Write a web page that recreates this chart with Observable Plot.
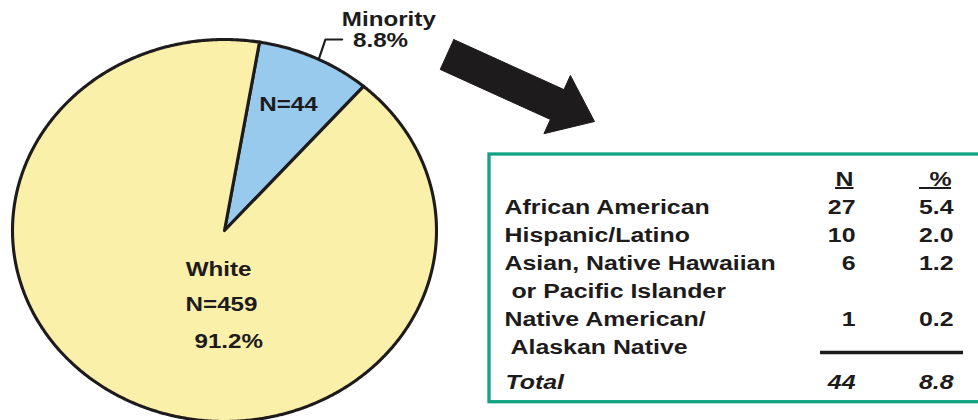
<!DOCTYPE html>
<html><head><meta charset="utf-8">
<script src="https://cdn.jsdelivr.net/npm/d3@7"></script>
<script src="https://cdn.jsdelivr.net/npm/@observablehq/plot@0.6"></script>
<style>
html,body{margin:0;padding:0;background:#fff;overflow:hidden}
#wrap{position:relative;width:978px;height:420px;overflow:hidden}
#wrap svg{position:absolute;left:0;top:0}
</style></head><body><div id="wrap"></div>
<script>
// ---------- data ----------
const sliceNames = ["Minority", "White"];
const sliceN = [44, 459];
const slicePct = [8.8, 91.2];

const groups = ["African American", "Hispanic/Latino", "Asian, Native Hawaiian\n or Pacific Islander", "Native American/\n Alaskan Native"];
const groupN = [27, 10, 6, 1];
const groupPct = [5.4, 2.0, 1.2, 0.2];
const totalLabel = "Total";
const headers = ["N", "%"];

// ---------- layout / style ----------
const W = 978, H = 420;
const ink = "#1e1b1c";
const sliceColors = ["#98caed", "#faf0aa"];
const green = "#12a384";
const font = "'Liberation Sans', Arial, Helvetica, sans-serif";
const pie = {cx: 224, cy: 230, rx: 212, ry: 191, start: 9.5 * Math.PI / 180};

// pie wedges in unit coordinates (angle measured clockwise from top)
const arcs = d3.pie().sort(null).startAngle(pie.start).endAngle(pie.start + 2 * Math.PI)(sliceN);
const wedges = arcs.map(a => {
  const pts = [{u: 0, v: 0}];
  const n = Math.ceil((a.endAngle - a.startAngle) / (Math.PI / 360));
  for (let k = 0; k <= n; k++) {
    const t = a.startAngle + (a.endAngle - a.startAngle) * k / n;
    pts.push({u: Math.sin(t), v: Math.cos(t)});
  }
  pts.push({u: 0, v: 0});
  return pts;
});

// label anchors (unit coordinates of the pie)
const minMid = (arcs[0].startAngle + arcs[0].endAngle) / 2;
const pieLabels = [
  {u: 0.775, v: 1.073, t: sliceNames[0]},
  {u: 0.736, v: 0.963, t: slicePct[0].toFixed(1) + "%"},
  {u: 0.302, v: 0.624, t: "N=" + sliceN[0]},
  {u: -0.028, v: -0.236, t: sliceNames[1]},
  {u: -0.014, v: -0.424, t: "N=" + sliceN[1]},
  {u: 0.020, v: -0.613, t: slicePct[1].toFixed(1) + "%"}
];
const leader = [
  {u: Math.sin(minMid + 0.02), v: Math.cos(minMid + 0.02)},
  {u: 0.476, v: 1.0},
  {u: 0.555, v: 1.0}
];

const plotA = Plot.plot({
  width: W, height: H, margin: 0,
  x: {domain: [-1, 1], range: [pie.cx - pie.rx, pie.cx + pie.rx], axis: null},
  y: {domain: [-1, 1], range: [pie.cy + pie.ry, pie.cy - pie.ry], axis: null},
  marks: [
    ...wedges.map((pts, i) => Plot.line(pts, {x: "u", y: "v", fill: sliceColors[i], stroke: ink, strokeWidth: 3.1, strokeLinejoin: "round"})),
    Plot.line(leader, {x: "u", y: "v", stroke: ink, strokeWidth: 2.2}),
    Plot.text(pieLabels, {x: "u", y: "v", text: "t", textAnchor: "middle", lineAnchor: "bottom", fontSize: 20, fontWeight: "bold", fontFamily: font, fill: ink})
  ]
});

// ---------- table ----------
const tbl = {top: 185, lh: 28, labelX: 504, nX: 855, pX: 953, nHeadX: 844, pHeadX: 940};
const labelLines = [], nums = [];
let line = 1;
groups.forEach((g, i) => {
  const parts = g.split("\n");
  nums.push({line, n: String(groupN[i]), p: groupPct[i].toFixed(1)});
  parts.forEach(p => { labelLines.push({line, t: p}); line++; });
});
const totalLine = line + 0.25;
const totalRow = [{line: totalLine, t: totalLabel, n: String(d3.sum(groupN)), p: d3.sum(groupPct).toFixed(1)}];
const yOf = d => tbl.top + d.line * tbl.lh;
const headRows = [{x: tbl.nHeadX, t: headers[0], x1: 835, x2: 853.5}, {x: tbl.pHeadX, t: headers[1], x1: 919, x2: 951}];

// block arrow geometry
const arrow = (() => {
  const tail = [446.5, 54], tip = [594, 121], sh = 16.4, hh = 32, hl = 41;
  const dx = tip[0] - tail[0], dy = tip[1] - tail[1], L = Math.hypot(dx, dy);
  const u = [dx / L, dy / L], n = [-u[1], u[0]];
  const B = [tip[0] - u[0] * hl, tip[1] - u[1] * hl];
  const P = (p, s) => ({x: p[0] + n[0] * s, y: p[1] + n[1] * s});
  const pts = [P(tail, -sh), P(B, -sh), P(B, -hh), {x: tip[0], y: tip[1]}, P(B, hh), P(B, sh), P(tail, sh)];
  pts.push(pts[0]);
  return pts;
})();

const txt = {fontSize: 20, fontWeight: "bold", fontFamily: font, fill: ink, lineAnchor: "bottom"};
const plotB = Plot.plot({
  width: W, height: H, margin: 0,
  style: {background: "transparent"},
  x: {domain: [0, W], range: [0, W], axis: null},
  y: {domain: [0, H], range: [0, H], axis: null},
  marks: [
    Plot.line(arrow, {x: "x", y: "y", fill: ink, stroke: ink, strokeWidth: 1}),
    Plot.rect([0], {x1: 489, x2: 1010, y1: 154, y2: 401.7, fill: "none", stroke: green, strokeWidth: 3.3}),
    Plot.text(headRows, {x: "x", y: tbl.top, text: "t", textAnchor: "middle", ...txt}),
    Plot.ruleY(headRows, {y: tbl.top + 2.5, x1: "x1", x2: "x2", stroke: ink, strokeWidth: 2}),
    Plot.text(labelLines, {x: tbl.labelX, y: yOf, text: "t", textAnchor: "start", ...txt}),
    Plot.text(nums, {x: tbl.nX, y: yOf, text: "n", textAnchor: "end", ...txt}),
    Plot.text(nums, {x: tbl.pX, y: yOf, text: "p", textAnchor: "end", ...txt}),
    Plot.ruleY([0], {y: tbl.top + 6 * tbl.lh - 1, x1: 820, x2: 963, stroke: ink, strokeWidth: 3.5}),
    Plot.text(totalRow, {x: tbl.labelX + 1, y: yOf, text: "t", textAnchor: "start", fontStyle: "italic", ...txt}),
    Plot.text(totalRow, {x: tbl.nX, y: yOf, text: "n", textAnchor: "end", fontStyle: "italic", ...txt}),
    Plot.text(totalRow, {x: tbl.pX, y: yOf, text: "p", textAnchor: "end", fontStyle: "italic", ...txt})
  ]
});

const wrap = document.getElementById("wrap");
wrap.appendChild(plotA);
wrap.appendChild(plotB);

// horizontal stretch of the lettering, as in the original artwork
[[plotA, 1.21], [plotB, 1.245]].forEach(([svg, s]) => {
  svg.querySelectorAll("text").forEach(t => {
    const ax = +(t.getAttribute("x") || 0);
    const tr = t.getAttribute("transform") || "";
    t.setAttribute("transform", `${tr} translate(${ax},0) scale(${s},1) translate(${-ax},0)`);
  });
});
</script></body></html>
